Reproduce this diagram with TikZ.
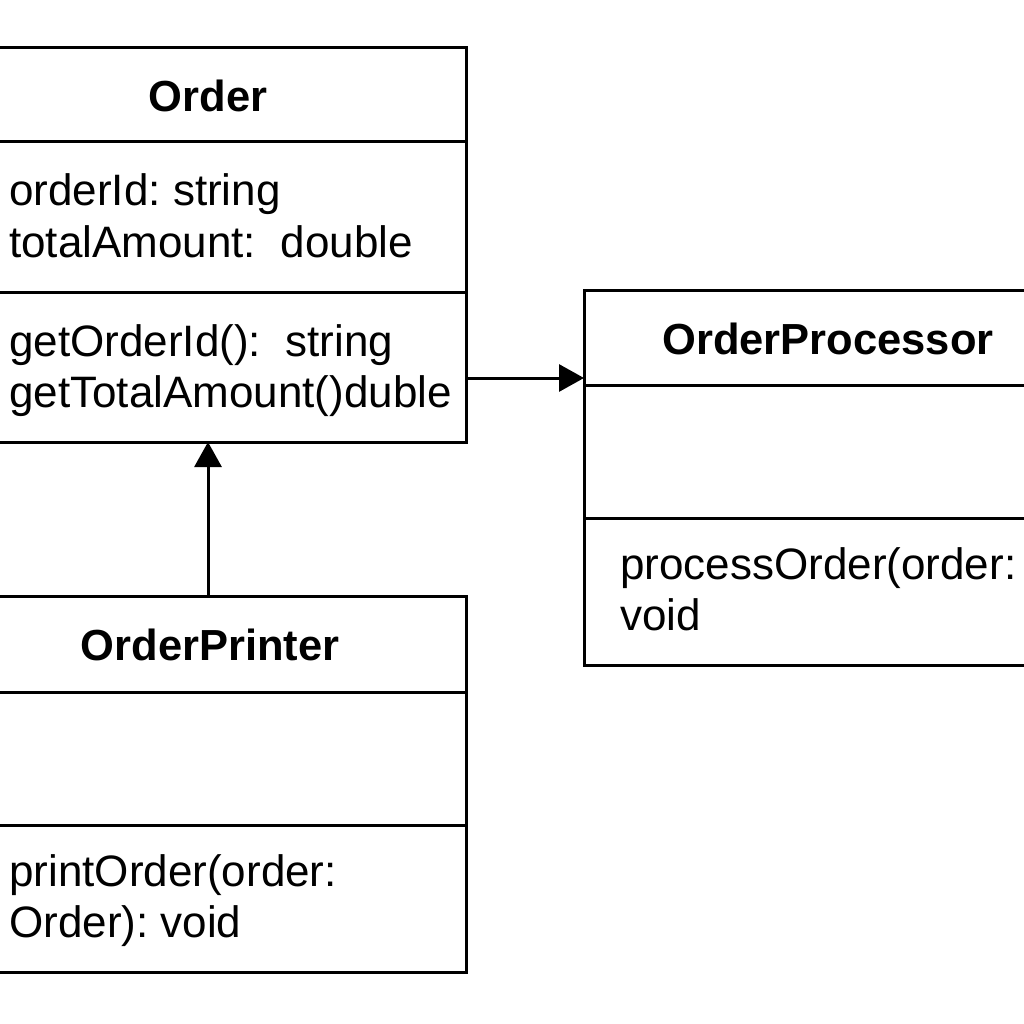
\documentclass[tikz,border=0pt]{standalone}
\usepackage{fontspec}
\setmainfont{Liberation Sans}
\usetikzlibrary{arrows.meta}
\frenchspacing
\begin{document}
\begin{tikzpicture}[x=1pt,y=-1pt,
  cls/.style={draw, line width=3pt, inner sep=0pt, outer sep=0pt},
  divline/.style={line width=3pt},
  title/.style={font=\fontsize{43.5}{51}\selectfont\bfseries, anchor=base, inner sep=0pt},
  member/.style={font=\fontsize{44}{51}\selectfont\frenchspacing, anchor=base west, inner sep=0pt},
  arr/.style={line width=3pt, -{Triangle[length=25pt,width=27pt]}}]
\useasboundingbox (0,0) rectangle (1024,1024);
\clip (0,0) rectangle (1024,1024);
\fill[white] (0,0) rectangle (1024,1024);
% Order
\node[cls, minimum width=516pt, minimum height=394pt] (order) at (208,245) {};
\draw[divline] (order.west |- 0,142) -- (order.east |- 0,142);
\draw[divline] (order.west |- 0,292) -- (order.east |- 0,292);
\node[title] (ordert) at (208,112) {Order};
\node[member] (oa1) at (9,206) {orderId: string};
\node[member] (oa2) at (9,257) {totalAmount:\ \ double};
\node[member] (om1) at (9,356) {getOrderId():\ \ string};
\node[member] (om2) at (9,407) {getTotalAmount()duble};
% OrderProcessor
\node[cls, minimum width=484pt, minimum height=375pt] (proc) at (826,477.5) {};
\draw[divline] (proc.west |- 0,385) -- (proc.east |- 0,385);
\draw[divline] (proc.west |- 0,518) -- (proc.east |- 0,518);
\node[title] (proct) at (828,354) {OrderProcessor};
\node[member] (pm1) at (620,579) {processOrder(order:};
\node[member] (pm2) at (620,630) {void};
% OrderPrinter
\node[cls, minimum width=516pt, minimum height=376pt] (printer) at (208,784) {};
\draw[divline] (printer.west |- 0,692) -- (printer.east |- 0,692);
\draw[divline] (printer.west |- 0,825) -- (printer.east |- 0,825);
\node[title] (printt) at (210,660) {OrderPrinter};
\node[member] (rm1) at (9,886) {printOrder(order:};
\node[member] (rm2) at (9,937) {Order): void};
% connectors
\draw[arr] (order.east |- 0,378) -- (proc.west |- 0,378);
\draw[arr] (printer.north) -- (order.south);
\end{tikzpicture}
\end{document}
